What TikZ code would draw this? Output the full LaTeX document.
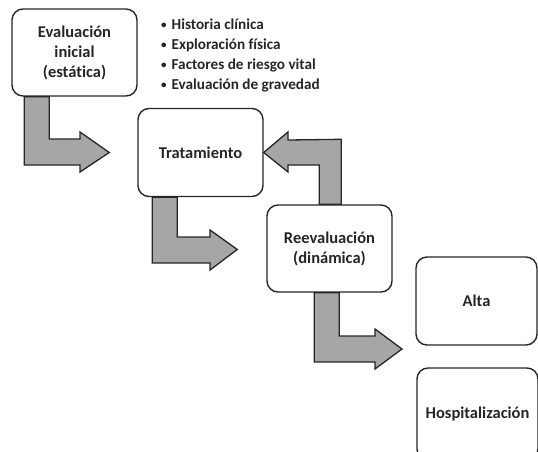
\documentclass[tikz,border=0pt]{standalone}
\usepackage{fontspec}
\setmainfont[Ligatures=NoCommon]{Carlito}
\usetikzlibrary{calc}
\definecolor{arrowgray}{HTML}{A6A6A6}
\definecolor{txt}{HTML}{262626}
\newcommand{\blt}{{\fontsize{11}{11}\selectfont\raisebox{1pt}{•}}\hspace{5pt}}
\tikzset{
  box/.style={draw=black!85, line width=1.4pt, rounded corners=11pt, fill=white,
    minimum width=125pt, minimum height=87pt, align=center, inner sep=2pt,
    font=\fontsize{16.5}{20}\selectfont\bfseries, text=txt},
  bigarrow/.style={draw=black!85, line width=1.3pt, fill=arrowgray, line join=miter},
  bullet/.style={anchor=west, font=\fontsize{15.2}{17}\selectfont\bfseries, text=txt, inner sep=0pt}
}
\begin{document}
\begin{tikzpicture}[x=1pt,y=-1pt]
\useasboundingbox (0,0) rectangle (538,451);
\clip (0,0) rectangle (538,451);
% boxes
\node[box] (ev) at (74.5,52.5) {Evaluación\\inicial\\(estática)};
\node[box, minimum height=88pt] (tr) at (200.5,152.5) {Tratamiento};
\node[box] (re) at (329.5,248.5) {Reevaluación\\(dinámica)};
\node[box, minimum width=121pt, minimum height=88pt] (alta) at (476.5,301) {Alta};
\node[box, minimum width=121pt, minimum height=92pt] (hosp) at (477.5,414) {Hospitalización};
% bullets
\node[bullet] (b1) at (161,24) {\blt Historia clínica};
\node[bullet] (b2) at (161,45) {\blt Exploración física};
\node[bullet] (b3) at (161,65) {\blt Factores de riesgo vital};
\node[bullet] (b4) at (161,85) {\blt Evaluación de gravedad};
% arrow 1: ev -> tr
\draw[bigarrow] ($(ev.south west)+(13,0)$) coordinate (a1) -- ++(25,0) |- (80,139) -- (80,132)
  -- ($(tr.west)+(-28,0)$) coordinate (a1t) -- (80,172) -- (80,165) -| (a1) -- cycle;
% arrow 2: tr -> re
\draw[bigarrow] ($(tr.south west)+(15,0)$) coordinate (a2) -- ++(25,0) |- (210,237) -- (210,230)
  -- ($(re.west)+(-29,1)$) coordinate (a2t) -- (210,270) -- (210,263) -| (a2) -- cycle;
% return arrow: re -> tr
\draw[bigarrow] ($(re.north west)+(53,0)$) coordinate (a3) |- (288,165) -- (288,172)
  -- (tr.east) -- (288,132) -- (288,140) -- ($(a3)+(22,-65)$) -- ($(a3)+(22,0)$) -- cycle;
% arrow 4: re -> alta/hosp
\draw[bigarrow] ($(re.south west)+(48,0)$) coordinate (a4) -- ++(25,0) |- (375,336) -- (375,329)
  -- (402,349) coordinate (a4t) -- (375,369) -- (375,362) -| (a4) -- cycle;
\end{tikzpicture}
\end{document}
